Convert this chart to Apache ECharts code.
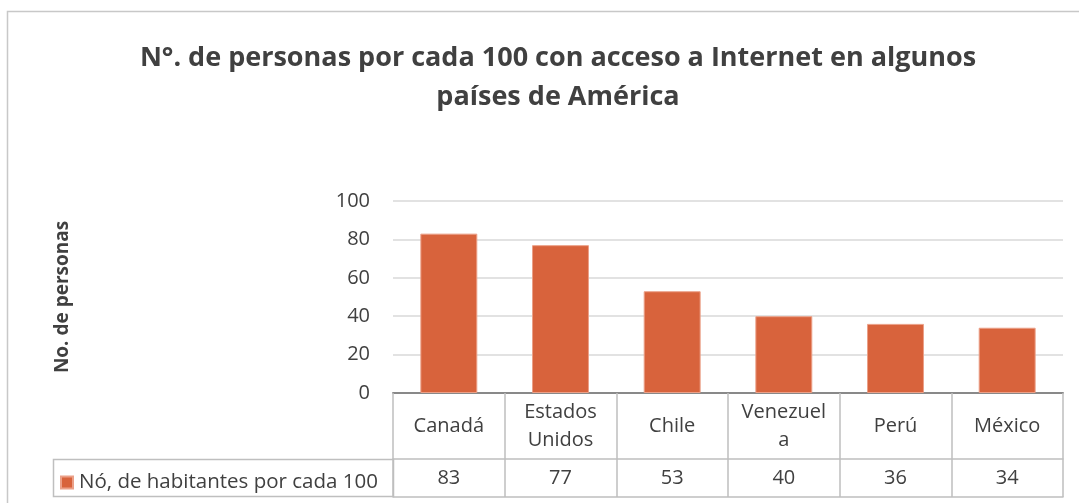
<!DOCTYPE html>
<html>
<head>
<meta charset="utf-8">
<script src="https://cdn.jsdelivr.net/npm/echarts@6/dist/echarts.min.js"></script>
<style>
  html, body { margin: 0; padding: 0; background: #fff; }
  #chart { width: 1079px; height: 503px; }
</style>
</head>
<body>
<div id="chart"></div>
<script>
const categories = ['Canadá', 'Estados\nUnidos', 'Chile', 'Venezuel\na', 'Perú', 'México']
const values = [83, 77, 53, 40, 36, 34]
const seriesName = 'Nó, de habitantes por cada 100'
const yTicks = [0, 20, 40, 60, 80, 100]

const font = "'Open Sans', sans-serif"
const textColor = '#404040'
const tableLine = '#bfbfbf'

const chart = echarts.init(document.getElementById('chart'))

chart.setOption({
  backgroundColor: '#fff',
  animation: false,
  title: {
    text: 'N°. de personas por cada 100 con acceso a Internet en algunos\npaíses de América',
    left: 553,
    top: 34,
    textAlign: 'center',
    textStyle: {
      fontFamily: font,
      fontSize: 27,
      fontWeight: 'bold',
      color: textColor,
      lineHeight: 39
    }
  },
  legend: {
    left: 55,
    top: 467,
    itemWidth: 12,
    itemHeight: 12,
    icon: 'rect',
    data: [seriesName],
    textStyle: { fontFamily: font, fontSize: 20.5, color: textColor, padding: [0, 0, 0, 1] }
  },
  graphic: [
    {
      type: 'rect',
      shape: { x: 7.5, y: 11.5, width: 1090, height: 520 },
      style: { fill: 'none', stroke: '#c8c8c8', lineWidth: 1.5 },
      silent: true
    },
    {
      type: 'rect',
      shape: { x: 53.5, y: 459.5, width: 340, height: 37 },
      style: { fill: 'none', stroke: tableLine, lineWidth: 1.5 },
      silent: true
    }
  ],
  grid: { left: 393, right: 16, top: 201, bottom: 110 },
  xAxis: [
    {
      type: 'category',
      data: categories,
      axisLine: { lineStyle: { color: '#898989', width: 2 } },
      axisTick: { show: true, length: 104, lineStyle: { color: tableLine, width: 1.5 } },
      axisLabel: {
        interval: 0,
        margin: 33,
        verticalAlign: 'middle',
        fontFamily: font,
        fontSize: 20,
        lineHeight: 28,
        color: textColor
      }
    },
    {
      type: 'category',
      data: categories,
      position: 'bottom',
      offset: 66,
      axisLine: { lineStyle: { color: tableLine, width: 1.5 } },
      axisTick: { show: false },
      axisLabel: {
        interval: 0,
        margin: 19,
        verticalAlign: 'middle',
        fontFamily: font,
        fontSize: 20,
        color: textColor,
        formatter: (v, i) => String(values[i])
      }
    },
    {
      type: 'category',
      data: categories,
      position: 'bottom',
      offset: 104,
      axisLine: { lineStyle: { color: tableLine, width: 1.5 } },
      axisTick: { show: false },
      axisLabel: { show: false }
    }
  ],
  yAxis: {
    type: 'value',
    min: yTicks[0],
    max: yTicks[yTicks.length - 1],
    interval: 20,
    name: 'No. de personas',
    nameLocation: 'middle',
    nameGap: 321,
    nameTextStyle: { fontFamily: font, fontSize: 19, fontWeight: 'bold', color: textColor },
    axisLine: { show: false },
    axisTick: { show: false },
    splitLine: { lineStyle: { color: '#d9d9d9', width: 1.5 } },
    axisLabel: { margin: 23, fontFamily: font, fontSize: 20, color: textColor }
  },
  series: [
    {
      name: seriesName,
      type: 'bar',
      data: values,
      barWidth: '51%',
      itemStyle: { color: '#d8633c', borderColor: '#eba088', borderWidth: 1 }
    }
  ]
})
</script>
</body>
</html>
